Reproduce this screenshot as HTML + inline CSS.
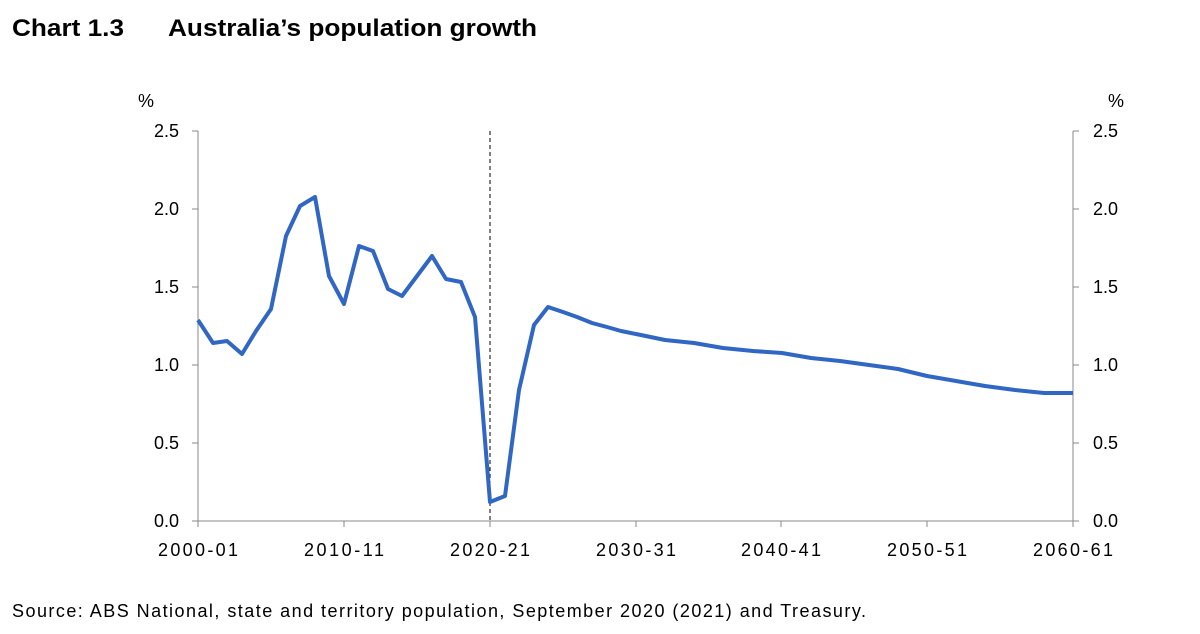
<!DOCTYPE html>
<html><head><meta charset="utf-8"><style>
body{margin:0;background:#fff;width:1200px;height:629px;overflow:hidden;font-family:"Liberation Sans",sans-serif;}
</style></head><body>
<svg width="1200" height="629" xmlns="http://www.w3.org/2000/svg" font-family="Liberation Sans, sans-serif">
<text x="12" y="36" font-size="24" font-weight="bold" fill="#000" textLength="112" lengthAdjust="spacingAndGlyphs">Chart 1.3</text>
<text x="168" y="36" font-size="24" font-weight="bold" fill="#000" textLength="369" lengthAdjust="spacingAndGlyphs">Australia’s population growth</text>
<g font-size="18" fill="#000">
<text x="138" y="107">%</text>
<text x="1108" y="107">%</text>
<g text-anchor="end">
<text x="179" y="137">2.5</text><text x="179" y="215">2.0</text><text x="179" y="293">1.5</text>
<text x="179" y="371">1.0</text><text x="179" y="449">0.5</text><text x="179" y="527">0.0</text>
</g>
<g>
<text x="1093" y="137">2.5</text><text x="1093" y="215">2.0</text><text x="1093" y="293">1.5</text>
<text x="1093" y="371">1.0</text><text x="1093" y="449">0.5</text><text x="1093" y="527">0.0</text>
</g>
<g text-anchor="middle">
<text x="198" y="556" textLength="80">2000-01</text><text x="344" y="556" textLength="80">2010-11</text><text x="490" y="556" textLength="80">2020-21</text>
<text x="636" y="556" textLength="80">2030-31</text><text x="781" y="556" textLength="80">2040-41</text><text x="927" y="556" textLength="80">2050-51</text>
<text x="1073" y="556" textLength="80">2060-61</text>
</g>
<text x="12" y="617" font-size="18" textLength="854">Source: ABS National, state and territory population, September 2020 (2021) and Treasury.</text>
</g>
<g stroke="#888" stroke-width="1" fill="none">
<line x1="198" y1="131" x2="198" y2="521"/>
<line x1="1073" y1="131" x2="1073" y2="521"/>
<line x1="198" y1="521" x2="1073" y2="521"/>
<path d="M192 131H198M192 209H198M192 287H198M192 365H198M192 443H198M192 521H198"/>
<path d="M1073 131H1079M1073 209H1079M1073 287H1079M1073 365H1079M1073 443H1079M1073 521H1079"/>
<path d="M344 521V527M490 521V527M636 521V527M781 521V527M927 521V527M1073 521V527M198 521V527"/>
</g>
<line x1="490" y1="131" x2="490" y2="521" stroke="#000" stroke-width="1" stroke-dasharray="4,3"/>
<polyline fill="none" stroke="#3066c4" stroke-width="4" stroke-linejoin="round" points="
198,320 213,343 227,341 242,354 256,331 271,309 286,236 300,206 315,197 329,276 344,304 359,246 373,251 388,289 402,296 417,276 432,256 446,279 461,282 475,317 490,502 505,496 519,390 534,325 548,307 563,312 577,317 592,323 607,327 621,331 636,334 665,340 694,343 723,348 753,351 782,353 811,358 840,361 869,365 898,369 927,376 956,381 985,386 1015,390 1044,393 1073,393"/>
</svg>
</body></html>
